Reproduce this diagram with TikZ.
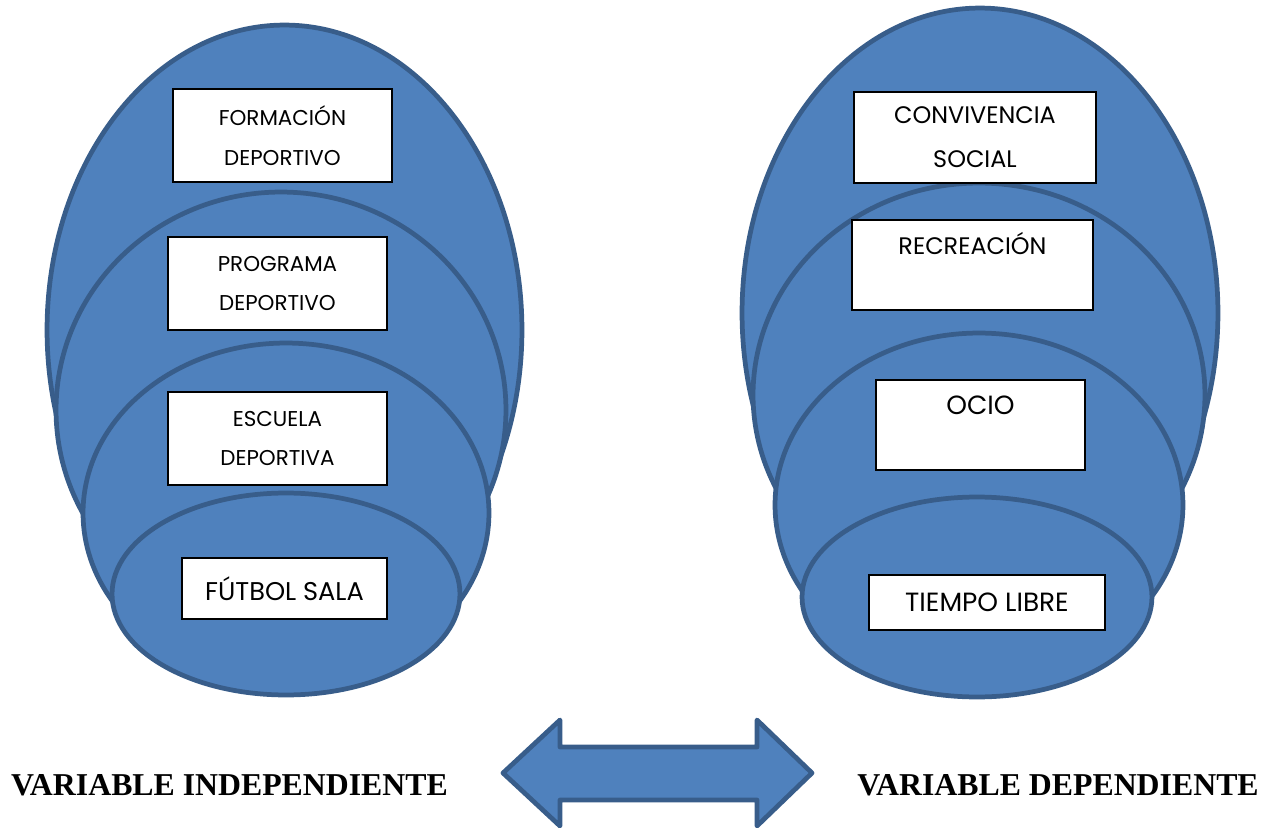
\documentclass[tikz,border=0pt]{standalone}
\usepackage{fontspec}
\setmainfont{Poppins}
\newfontfamily\labelfont{Liberation Serif}
\usepackage{xcolor}
\usepackage{tikz}
\usetikzlibrary{positioning}

\definecolor{layerfill}{RGB}{79,129,189}
\definecolor{layerline}{RGB}{56,93,138}

\begin{document}
\begin{tikzpicture}[
      x=0.02cm, y=-0.02cm,
      layer/.style={draw=layerline, fill=layerfill, line width=2.7pt},
      tag_box/.style={draw=black, fill=white, line width=0.7pt, inner sep=0pt, align=center},
      small_tag/.style={font=\fontsize{12.2}{22.5}\selectfont},
      mid_tag/.style={font=\fontsize{13.6}{25}\selectfont},
      big_tag/.style={font=\fontsize{15}{22}\selectfont},
      var_text/.style={font=\labelfont\bfseries\fontsize{18.1}{21}\selectfont, inner sep=0pt},
      dbl_arrow/.style={draw=layerline, fill=layerfill, line width=2.7pt, line join=round}
  ]
      \useasboundingbox (0,0) rectangle (1276,828);

      % Independent variable (left)
      \draw[layer] (284.5,330) ellipse [x radius=4.75cm, y radius=6.10cm];
      \draw[layer] (281,410) ellipse [x radius=4.50cm, y radius=4.36cm];
      \draw[layer] (286,513) ellipse [x radius=4.06cm, y radius=3.40cm];
      \draw[layer] (286,594) ellipse [x radius=3.48cm, y radius=2.02cm];

      \node[tag_box, small_tag, minimum width=4.38cm, minimum height=1.86cm] (formacion) at (282.5,135.5) {FORMACIÓN\\DEPORTIVO};
      \node[tag_box, small_tag, minimum width=4.38cm, minimum height=1.86cm] (programa) at (277.5,283.5) {PROGRAMA\\DEPORTIVO};
      \node[tag_box, small_tag, minimum width=4.38cm, minimum height=1.86cm] (escuela) at (277.5,438.5) {ESCUELA\\DEPORTIVA};
      \node[tag_box, font=\fontsize{14.6}{18}\selectfont, minimum width=4.10cm, minimum height=1.22cm] (futbol) at (284.5,588.5) {FÚTBOL SALA};

      % Dependent variable (right)
      \draw[layer] (980,313) ellipse [x radius=4.76cm, y radius=6.10cm];
      \draw[layer] (979,395) ellipse [x radius=4.52cm, y radius=4.24cm];
      \draw[layer] (979,505) ellipse [x radius=4.08cm, y radius=3.44cm];
      \draw[layer] (977,597) ellipse [x radius=3.50cm, y radius=2.00cm];

      \node[tag_box, mid_tag, minimum width=4.84cm, minimum height=1.82cm] (convivencia) at (975,137.5) {CONVIVENCIA\\SOCIAL};
      \node[tag_box, mid_tag, minimum width=4.82cm, minimum height=1.80cm] (recreacion) at (972.5,265) {RECREACIÓN\\~};
      \node[tag_box, big_tag, minimum width=4.18cm, minimum height=1.80cm] (ocio) at (980.5,425) {OCIO\\~};
      \node[tag_box, big_tag, minimum width=4.72cm, minimum height=1.10cm] (tiempo) at (987,602.5) {TIEMPO LIBRE};

      % Relation between both
      \draw[dbl_arrow] (503,773) -- (560,720) -- (560,747) -- (757,747) -- (757,720) -- (812,773)
          -- (757,826) -- (757,800) -- (560,800) -- (560,826) -- cycle;

      \node[var_text] (vind) at (229.5,785) {VARIABLE INDEPENDIENTE};
      \node[var_text] (vdep) at (1058,785) {VARIABLE DEPENDIENTE};
  \end{tikzpicture}
\end{document}
